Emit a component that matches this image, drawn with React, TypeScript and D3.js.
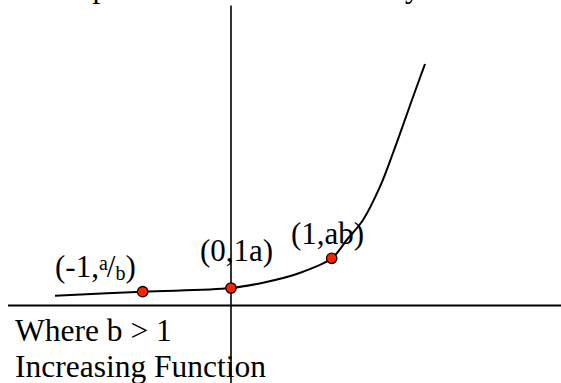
import React from "react";
import * as d3 from "d3";

// Curve samples (data units: x, y)
const curveX = [-1.76, -0.883, 0, 0.32, 0.657, 1.007, 1.157, 1.32, 1.49, 1.62, 1.82, 1.907, 1.94];
const curveY = [0.098, 0.138, 0.175, 0.228, 0.315, 0.472, 0.655, 0.855, 1.188, 1.525, 2.085, 2.325, 2.415];

// Highlighted points
const pointX = [-0.883, 0, 1.007];
const pointY = [0.138, 0.175, 0.472];

const W = 561;
const H = 383;
const FONT = "'Liberation Serif', 'Times New Roman', Times, serif";

export default function App() {
  const x = d3.scaleLinear().domain([-2.23, 3.3]).range([8, 561]);
  const y = d3.scaleLinear().domain([-0.775, 3.0]).range([383, 5.5]);

  const line = d3
    .line<number>()
    .x((_, i) => x(curveX[i]))
    .y((_, i) => y(curveY[i]))
    .curve(d3.curveCatmullRom.alpha(0.5));

  const path = line(curveX) || "";
  const ts = { fontFamily: FONT };

  return (
    <svg
      width={W}
      height={H}
      style={{ position: "absolute", left: 0, top: 0, background: "#fff", fontFamily: FONT }}
    >
      <rect x={0} y={0} width={W} height={H} fill="#fff" />
      {/* title (mostly above the visible area) */}
      <text x={46} y={-3.5} fontSize={31} fill="#000" style={ts}>Graph</text>
      <text x={405} y={-3.5} fontSize={31} fill="#000" style={ts}>y = ab</text>

      {/* axes */}
      <line x1={x(-2.23)} x2={x(3.3)} y1={y(0)} y2={y(0)} stroke="#000" strokeWidth={2} />
      <line x1={x(0)} x2={x(0)} y1={y(3.0)} y2={y(-0.775)} stroke="#000" strokeWidth={1.6} />

      {/* curve */}
      <path d={path} fill="none" stroke="#000" strokeWidth={2} />

      {/* points */}
      {pointX.map((px, i) => (
        <circle key={i} cx={x(px)} cy={y(pointY[i])} r={5.2} fill="#ff2200" stroke="#000" strokeWidth={1.3} />
      ))}

      {/* labels */}
      <text x={55} y={276.7} fontSize={31} fill="#000" style={ts}>
        (-1,
        <tspan fontSize={20} dy={-7}>a</tspan>
        <tspan fontSize={31} dy={7} dx={-1}>/</tspan>
        <tspan fontSize={20} dy={3}>b</tspan>
        <tspan fontSize={31} dy={-3}>)</tspan>
      </text>
      <text x={200} y={260.7} fontSize={31} fill="#000" style={ts}>(0,1a)</text>
      <text x={291} y={244.3} fontSize={31} fill="#000" style={ts}>(1,ab)</text>

      <text x={15} y={341} fontSize={31.5} fill="#000" style={ts}>Where b &gt; 1</text>
      <text x={15} y={376.7} fontSize={31.5} fill="#000" style={ts}>Increasing Function</text>
    </svg>
  );
}
